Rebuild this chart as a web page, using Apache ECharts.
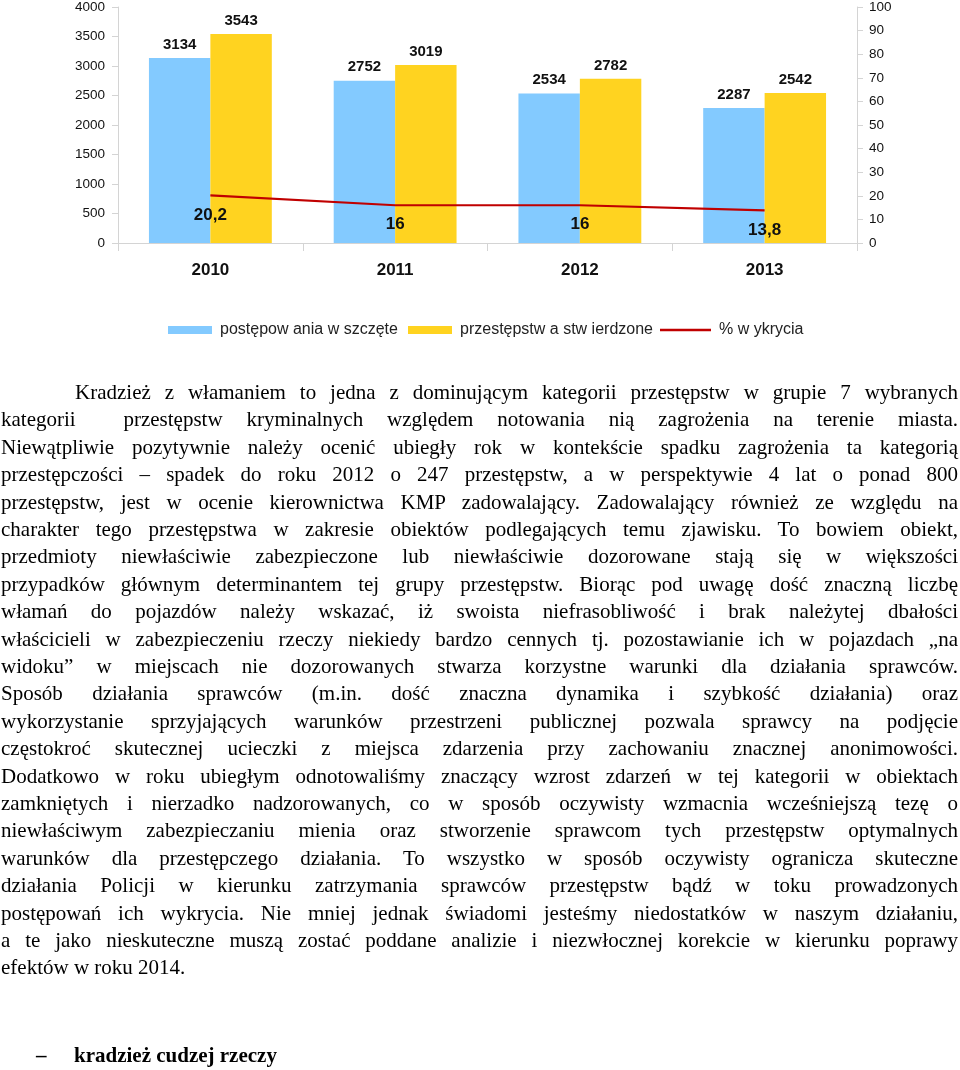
<!DOCTYPE html>
<html>
<head>
<meta charset="utf-8">
<script src="https://cdn.jsdelivr.net/npm/echarts@6/dist/echarts.min.js"></script>
<style>
  html, body { margin: 0; padding: 0; background: #fff; }
  body { width: 960px; height: 1070px; position: relative; overflow: hidden; }
  #chart { position: absolute; left: 0; top: 0; width: 960px; height: 350px; }
  #text { position: absolute; left: 1px; top: 0; width: 957px; height: 1070px; }
  .ln { position: absolute; left: 0; white-space: pre; font-family: "Liberation Serif", "Times New Roman", serif; font-size: 21px; line-height: 27.5px; color: #000; }
  .ln span { display: inline-block; transform-origin: left center; }
  #sub { position: absolute; top: 1042px; left: 0; font-family: "Liberation Serif", "Times New Roman", serif; font-size: 21px; font-weight: bold; line-height: 27.5px; color: #000; white-space: pre; }
</style>
</head>
<body>
<div id="chart"></div>
<div id="text"></div>
<div id="sub"><span style="position:absolute;left:36px;">–</span><span style="position:absolute;left:74px;">kradzież cudzej rzeczy</span></div>
<script>
// ---- data ----
const categories = ['2010', '2011', '2012', '2013'];
const postepowaniaWszczete = [3134, 2752, 2534, 2287];
const przestepstwaStwierdzone = [3543, 3019, 2782, 2542];
const procentWykrycia = [20.2, 16, 16, 13.8];
const seriesNames = ['postępow ania w szczęte', 'przestępstw a stw ierdzone', '% w ykrycia'];
const leftAxis = { min: 0, max: 4000, interval: 500 };
const rightAxis = { min: 0, max: 100, interval: 10 };

const paragraphLines = [
  'Kradzież z włamaniem to jedna z dominującym kategorii przestępstw w grupie 7 wybranych',
  'kategorii  przestępstw kryminalnych względem notowania nią zagrożenia na terenie miasta.',
  'Niewątpliwie pozytywnie należy ocenić ubiegły rok w kontekście spadku zagrożenia ta kategorią',
  'przestępczości – spadek do roku 2012 o 247 przestępstw, a w perspektywie 4 lat o ponad 800',
  'przestępstw, jest w ocenie kierownictwa KMP zadowalający. Zadowalający również ze względu na',
  'charakter tego przestępstwa w zakresie obiektów podlegających temu zjawisku. To bowiem obiekt,',
  'przedmioty niewłaściwie zabezpieczone lub niewłaściwie dozorowane stają się w większości',
  'przypadków głównym determinantem tej grupy przestępstw. Biorąc pod uwagę dość znaczną liczbę',
  'włamań do pojazdów należy wskazać, iż swoista niefrasobliwość i brak należytej dbałości',
  'właścicieli w zabezpieczeniu rzeczy niekiedy bardzo cennych tj. pozostawianie ich w pojazdach „na',
  'widoku” w miejscach nie dozorowanych stwarza korzystne warunki dla działania sprawców.',
  'Sposób działania sprawców (m.in. dość znaczna dynamika i szybkość działania) oraz',
  'wykorzystanie sprzyjających warunków przestrzeni publicznej pozwala sprawcy na podjęcie',
  'częstokroć skutecznej ucieczki z miejsca zdarzenia przy zachowaniu znacznej anonimowości.',
  'Dodatkowo w roku ubiegłym odnotowaliśmy znaczący wzrost zdarzeń w tej kategorii w obiektach',
  'zamkniętych i nierzadko nadzorowanych, co w sposób oczywisty wzmacnia wcześniejszą tezę o',
  'niewłaściwym zabezpieczaniu mienia oraz stworzenie sprawcom tych przestępstw optymalnych',
  'warunków dla przestępczego działania. To wszystko w sposób oczywisty ogranicza skuteczne',
  'działania Policji w kierunku zatrzymania sprawców przestępstw bądź w toku prowadzonych',
  'postępowań ich wykrycia. Nie mniej jednak świadomi jesteśmy niedostatków w naszym działaniu,',
  'a te jako nieskuteczne muszą zostać poddane analizie i niezwłocznej korekcie w kierunku poprawy',
  'efektów w roku 2014.'
];

// ---- chart ----
const chart = echarts.init(document.getElementById('chart'), null, { renderer: 'canvas' });
const axisLineColor = '#d4d4d4';
const lineColor = '#c00000';
const fontFam = '"Liberation Sans", Arial, sans-serif';
const legendText = { fontFamily: fontFam, fontSize: 16, color: '#222', padding: [0, 0, 0, 3] };

chart.setOption({
  animation: false,
  backgroundColor: '#fff',
  textStyle: { fontFamily: fontFam },
  grid: { left: 118, right: 103, top: 6, bottom: 107, containLabel: false },
  legend: [
    { data: [seriesNames[0]], left: 163, top: 317, itemWidth: 44, itemHeight: 8, icon: 'rect', textStyle: legendText },
    { data: [seriesNames[1]], left: 403, top: 317, itemWidth: 44, itemHeight: 8, icon: 'rect', textStyle: legendText },
    { data: [{ name: seriesNames[2], icon: 'path://M0,0H51V2.4H0Z', itemStyle: { color: lineColor } }],
      left: 655, top: 317, itemWidth: 51, itemHeight: 8, symbolKeepAspect: true, textStyle: legendText }
  ],
  xAxis: {
    type: 'category',
    data: categories,
    axisLine: { show: true, lineStyle: { color: axisLineColor, width: 1 } },
    axisTick: { show: true, length: 8, alignWithLabel: false, lineStyle: { color: axisLineColor } },
    axisLabel: { fontFamily: fontFam, fontSize: 17, fontWeight: 'bold', color: '#111', margin: 19 },
    splitLine: { show: false }
  },
  yAxis: [
    {
      type: 'value',
      min: leftAxis.min, max: leftAxis.max, interval: leftAxis.interval,
      position: 'left',
      axisLine: { show: true, lineStyle: { color: axisLineColor } },
      axisTick: { show: true, length: 6, lineStyle: { color: axisLineColor } },
      axisLabel: { fontFamily: fontFam, fontSize: 13.5, color: '#111', margin: 13, formatter: v => String(v) },
      splitLine: { show: false }
    },
    {
      type: 'value',
      min: rightAxis.min, max: rightAxis.max, interval: rightAxis.interval,
      position: 'right',
      axisLine: { show: true, lineStyle: { color: axisLineColor } },
      axisTick: { show: true, length: 6, lineStyle: { color: axisLineColor } },
      axisLabel: { fontFamily: fontFam, fontSize: 13.5, color: '#111', margin: 12, formatter: v => String(v) },
      splitLine: { show: false }
    }
  ],
  series: [
    {
      name: seriesNames[0],
      type: 'bar',
      data: postepowaniaWszczete,
      barGap: '0%',
      barCategoryGap: '33.5%',
      itemStyle: { color: '#83caff' },
      label: { show: true, position: 'top', distance: 6, fontFamily: fontFam, fontSize: 15, fontWeight: 'bold', color: '#111' }
    },
    {
      name: seriesNames[1],
      type: 'bar',
      data: przestepstwaStwierdzone,
      barGap: '0%',
      barCategoryGap: '33.5%',
      itemStyle: { color: '#ffd320' },
      label: { show: true, position: 'top', distance: 6, fontFamily: fontFam, fontSize: 15, fontWeight: 'bold', color: '#111' }
    },
    {
      name: seriesNames[2],
      type: 'line',
      yAxisIndex: 1,
      data: procentWykrycia,
      symbol: 'circle',
      symbolSize: 0.01,
      showSymbol: true,
      lineStyle: { color: lineColor, width: 2.2 },
      itemStyle: { color: lineColor },
      label: {
        show: true, position: 'bottom', distance: 11,
        fontFamily: fontFam, fontSize: 17, fontWeight: 'bold', color: '#111',
        formatter: p => String(p.value).replace('.', ',')
      },
      z: 5
    }
  ]
});

// ---- justified paragraph, line by line ----
const textBox = document.getElementById('text');
const W = 957;
const firstLineTop = 379;
const lineStep = 27.4;
paragraphLines.forEach((t, i) => {
  const div = document.createElement('div');
  div.className = 'ln';
  const indent = i === 0 ? 74 : 0;
  div.style.top = (firstLineTop + i * lineStep) + 'px';
  div.style.left = indent + 'px';
  const span = document.createElement('span');
  span.textContent = t;
  div.appendChild(span);
  textBox.appendChild(div);
  if (i === paragraphLines.length - 1) return;
  const avail = W - indent;
  const w = span.getBoundingClientRect().width;
  const spaces = (t.match(/ /g) || []).length;
  if (w <= avail) {
    span.style.wordSpacing = ((avail - w) / spaces) + 'px';
  } else {
    span.style.transform = 'scaleX(' + (avail / w) + ')';
  }
});
</script>
</body>
</html>
